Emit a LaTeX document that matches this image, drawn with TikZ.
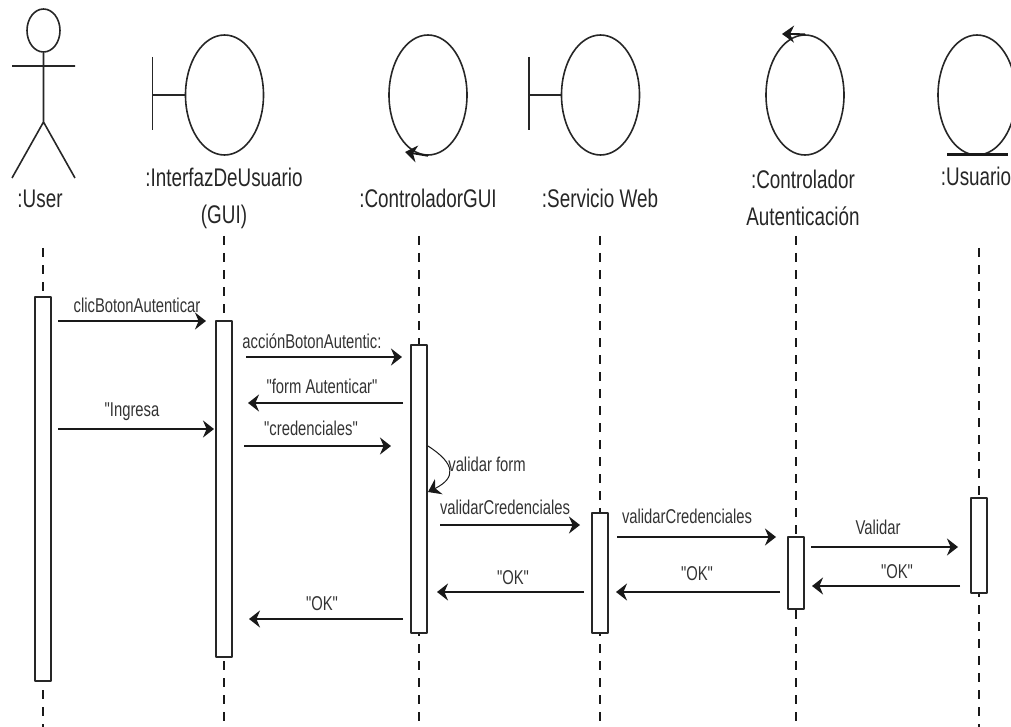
\documentclass[tikz,border=0pt]{standalone}
\usepackage{fontspec}
\newfontfamily\diagfont{Liberation Sans}
\usetikzlibrary{arrows.meta,shapes.geometric}

\tikzset{
  shape line/.style={draw=black!85,line width=1.6pt},
  big circle/.style={shape line,ellipse,inner sep=0pt,minimum width=78pt,minimum height=120pt},
  head circle/.style={shape line,ellipse,inner sep=0pt,minimum width=33pt,minimum height=43pt},
  role label/.style={text=black!85,font=\diagfont\fontsize{25.5}{37}\selectfont,align=center,xscale=.74,transform shape,inner sep=0pt},
  msg label/.style={text=black!80,font=\diagfont\fontsize{20}{24}\selectfont,xscale=.74,transform shape,inner sep=0pt},
  life line/.style={black!90,line width=1.3pt,dash pattern=on 9pt off 8pt},
  act bar/.style={shape line,fill=white,inner sep=0pt,minimum width=16pt},
  msg/.style={-{Stealth[length=11pt,width=17pt]},black!90,line width=2.2pt},
  turn tip/.style={-{Stealth[length=12pt,width=17pt]},black!90,line width=1.8pt},
}

\begin{document}
\begin{tikzpicture}[x=1pt,y=-1pt,line cap=butt,line join=round]
  \useasboundingbox (0,0) rectangle (1011,727);

  % --- lifelines ---
  \foreach \nm/\xx/\ya in {user/43/248,gui/224/236,ctrl/419/236,web/600/236,auth/796/236,usu/979/248}{
    \coordinate (\nm top) at (\xx,\ya);
    \coordinate (\nm end) at (\xx,727);
    \draw[life line] (\nm top) -- (\nm end);
  }

  % --- actor ---
  \node[head circle] (head) at (43.5,30.5) {};
  \coordinate (hip) at (43.5,122);
  \coordinate (armL) at (12,66);
  \coordinate (armR) at (75,66);
  \coordinate (legL) at (12,178);
  \coordinate (legR) at (75,178);
  \draw[shape line] (head.south) -- (hip) (armL) -- (armR) (legL) -- (hip) -- (legR);
  \node[role label] (userlbl) at (40,199) {:User};

  % --- boundaries ---
  \foreach \nm/\xc/\xb in {guiicon/224.5/152.5,webicon/600.5/529}{
    \node[big circle] (\nm) at (\xc,95) {};
    \coordinate (\nm A) at (\xb,57);
    \coordinate (\nm B) at (\xb,130);
    \coordinate (\nm C) at (\xb,95);
    \draw[shape line] (\nm A) -- (\nm B) (\nm C) -- (\nm.west);
  }
  \node[role label] (guilbl) at (224,198) {:InterfazDeUsuario\\(GUI)};
  \node[role label] (weblbl) at (600,198) {:Servicio Web};

  % --- controllers ---
  \node[big circle] (ctrlicon) at (428,95) {};
  \coordinate (ctrltip) at (405,152);
  \draw[turn tip] (ctrlicon.south) -- (ctrltip);
  \node[role label] (ctrllbl) at (428,198) {:ControladorGUI};
  \node[big circle] (authicon) at (805,95) {};
  \coordinate (authtip) at (782,34);
  \draw[turn tip] (authicon.north) -- (authtip);
  \node[role label] (authlbl) at (803,198) {:Controlador\\Autenticación};

  % --- entity ---
  \node[big circle] (usuicon) at (977,95) {};
  \coordinate (usuA) at (947,155);
  \coordinate (usuB) at (1008,155);
  \draw[black!90,line width=3pt] (usuA) -- (usuB);
  \node[role label] (usulbl) at (976,176) {:Usuario};

  % --- activation bars ---
  \foreach \nm/\xx/\ya/\yb in {baruser/43/297/681,bargui/224/321/657,barctrl/419/345/633,barweb/600/513/633,barauth/796/537/609,barusu/979/498/593}{
    \node[act bar,minimum height={\yb-\ya}] (\nm) at (\xx,{(\ya+\yb)/2}) {};
  }

  % --- messages ---
  \foreach \nm/\xa/\xb/\yy/\lx/\ly/\txt in {
    clic/58/206/321/137/305/clicBotonAutenticar,
    accion/246/402/357/312/341/acciónBotonAutentic:,
    form/403/248/403/322/386/"form Autenticar",
    ingresa/58/214/429/132/412/"Ingresa,
    cred/244/391/446/311/428/"credenciales",
    valA/440/580/525/505/507/validarCredenciales,
    valB/617/776/537/687/516/validarCredenciales,
    valC/811/958/547/878/527/Validar,
    okA/960/812/586/897/572/"OK",
    okB/780/616/592/697/574/"OK",
    okC/584/437/592/513/578/"OK",
    okD/403/249/619/322/604/"OK"}{
    \coordinate (\nm s) at (\xa,\yy);
    \coordinate (\nm e) at (\xb,\yy);
    \draw[msg] (\nm s) -- (\nm e);
    \node[msg label] (\nm lbl) at (\lx,\ly) {\txt};
  }

  % --- self call on the controller ---
  \coordinate (selfs) at (428,446);
  \coordinate (selfe) at (428,492);
  \draw[turn tip,line width=1pt] (selfs) .. controls (456,464) and (456,478) .. (selfe);
  \node[msg label] (selflbl) at (487,464) {validar form};
\end{tikzpicture}
\end{document}
